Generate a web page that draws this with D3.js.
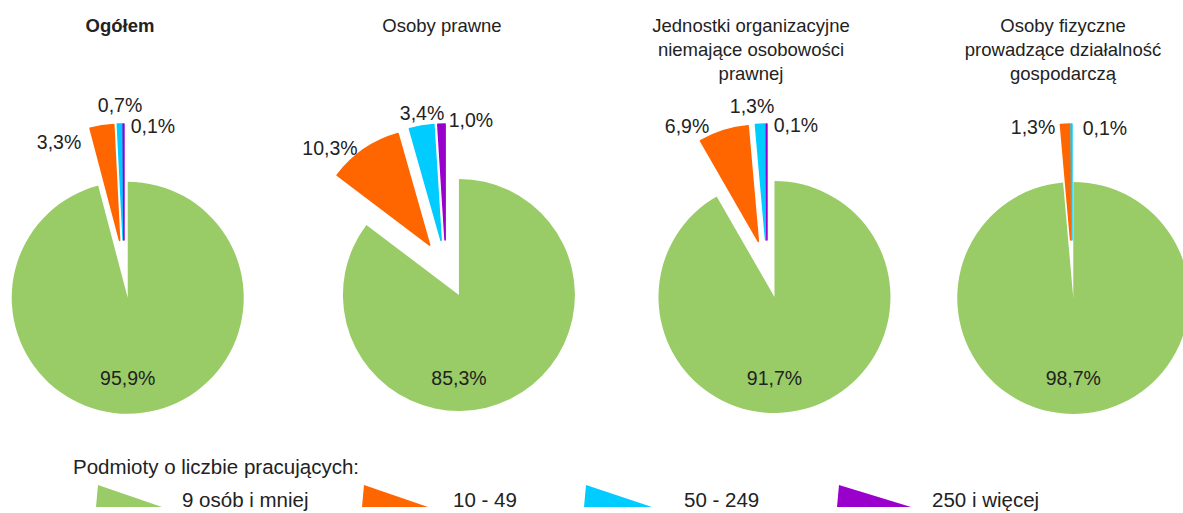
<!DOCTYPE html>
<html>
<head>
<meta charset="utf-8">
<script src="https://cdn.jsdelivr.net/npm/d3@7"></script>
<style>
  body { margin: 0; background: #fff; }
  text { font-family: "Liberation Sans", Arial, sans-serif; fill: #222; }
</style>
</head>
<body>
<div id="chart"></div>
<script>
// data
const categories = ["9 osób i mniej", "10 - 49", "50 - 249", "250 i więcej"];
const titles = [
    ["Ogółem"],
    ["Osoby prawne"],
    ["Jednostki organizacyjne", "niemające osobowości", "prawnej"],
    ["Osoby fizyczne", "prowadzące działalność", "gospodarczą"]
];
const ogolem = [95.9, 3.3, 0.7, 0.1];
const osobyPrawne = [85.3, 10.3, 3.4, 1.0];
const jednostki = [91.7, 6.9, 1.3, 0.1];
const osobyFizyczne = [98.7, 1.3, 0.1, 0];
const legendTitle = "Podmioty o liczbie pracujących:";

// layout
const width = 1183, height = 513;
const colors = ["#99cc66", "#ff6600", "#00ccff", "#9900cc"];
const radius = 116, explode = 29;
const centersX = [124, 446, 767, 1072], centerY = 269;
const titleX = [120, 442, 751, 1063];
// label offsets from pie centre, for the small slices
const labelOffsets = [
    [[-65, -127], [-4, -164], [29, -143]],
    [[-116, -121], [-24, -156], [25, -149]],
    [[-80, -143], [-15, -163], [29, -144]],
    [[-39, -142], [33, -141], null]
];
const legendX = [96, 362, 584, 837], legendTextX = [182, 453, 684, 932];
const legendW = [66, 66, 68, 74];

const series = [ogolem, osobyPrawne, jednostki, osobyFizyczne];

let svg = d3.select("#chart").append("svg")
    .attr("width", width)
    .attr("height", height)

const pie = d3.pie().sort(null).value(d => d)
const arc = d3.arc().innerRadius(0).outerRadius(radius)
const fmt = v => d3.format(".1f")(v).replace(".", ",") + "%"

series.forEach((values, i) => {
    let g = svg.append("g")
        .attr("transform", "translate(" + centersX[i] + "," + centerY + ")")

    let slices = pie(values)

    g.selectAll("path")
        .data(slices.filter(d => d.value > 0))
        .enter()
        .append("path")
        .attr("d", arc)
        .attr("fill", d => colors[d.index])
        .attr("stroke", d => d.index === 0 ? "none" : colors[d.index])
        .attr("stroke-width", 1.6)
        .attr("stroke-linejoin", "round")
        .attr("transform", d => {
            let mid = (d.startAngle + d.endAngle) / 2
            return "translate(" + (explode * Math.sin(mid)) + "," + (-explode * Math.cos(mid)) + ")"
        })

    // big slice label
    let big = slices[0]
    let bigMid = (big.startAngle + big.endAngle) / 2
    g.append("text")
        .attr("x", explode * Math.sin(bigMid))
        .attr("y", 109)
        .attr("text-anchor", "middle")
        .attr("dominant-baseline", "central")
        .style("font-size", "19.5px")
        .text(fmt(big.value))

    // small slice labels
    slices.slice(1).forEach((d, j) => {
        let off = labelOffsets[i][j]
        if (!off || d.value <= 0) return
        g.append("text")
            .attr("x", off[0])
            .attr("y", off[1])
            .attr("text-anchor", "middle")
            .attr("dominant-baseline", "central")
            .style("font-size", "19.5px")
            .text(fmt(d.value))
    })

    // title
    svg.append("text")
        .attr("x", titleX[i])
        .attr("y", 32)
        .attr("text-anchor", "middle")
        .style("font-size", "18.5px")
        .style("font-weight", i === 0 ? "bold" : "normal")
        .selectAll("tspan")
        .data(titles[i])
        .enter()
        .append("tspan")
        .attr("x", titleX[i])
        .attr("dy", (d, k) => k === 0 ? 0 : 24)
        .text(d => d)
})

// legend
svg.append("text")
    .attr("x", 73)
    .attr("y", 474)
    .style("font-size", "20.5px")
    .text(legendTitle)

let legend = svg.append("g")
    .selectAll("g")
    .data(categories)
    .enter()
    .append("g")

legend.append("path")
    .attr("d", (d, i) => d3.line()([
        [legendX[i] + 2, 485],
        [legendX[i], 507],
        [legendX[i] + legendW[i], 507]
    ]) + "Z")
    .attr("fill", (d, i) => colors[i])

legend.append("text")
    .attr("x", (d, i) => legendTextX[i])
    .attr("y", 507)
    .style("font-size", "20.5px")
    .text(d => d)
</script>
</body>
</html>
